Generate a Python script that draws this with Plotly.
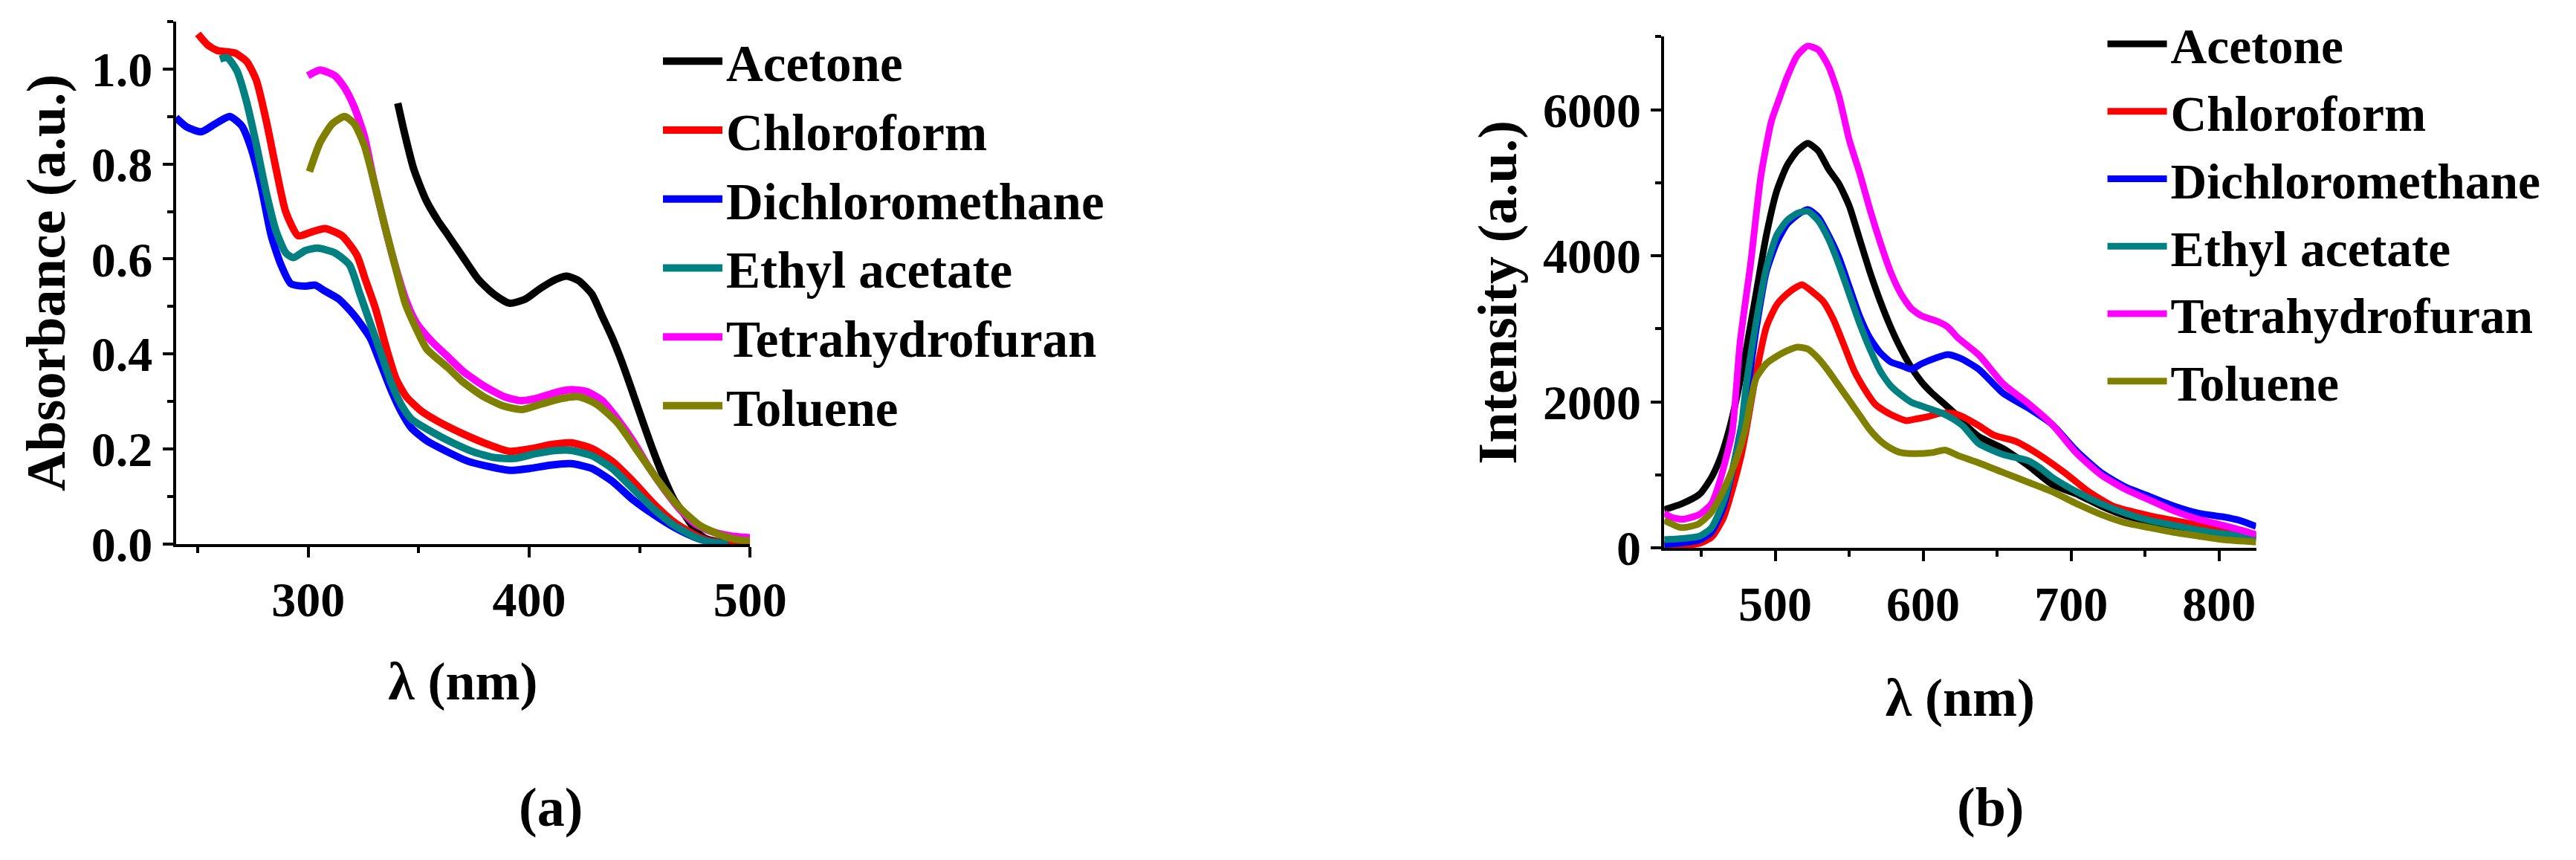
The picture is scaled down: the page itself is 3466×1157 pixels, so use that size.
import plotly.graph_objects as go

names = ["Acetone", "Chloroform", "Dichloromethane", "Ethyl acetate", "Tetrahydrofuran", "Toluene"]
colors = ["#000000", "#ff0000", "#0000ff", "#008080", "#ff00ff", "#808000"]

# (a) absorbance
acetone_a_x = [340.5, 343.3, 347.7, 353.3, 358.8, 363, 370, 377, 384, 391, 398, 405, 412, 417, 422.5, 428.4, 433, 437.6, 442.3, 447, 451.6, 456.3, 461, 465.6, 470.3, 475, 479.6, 486.6, 493, 500]
acetone_a_y = [0.928, 0.870, 0.790, 0.724, 0.680, 0.652, 0.604, 0.557, 0.526, 0.507, 0.515, 0.538, 0.557, 0.564, 0.554, 0.526, 0.48, 0.434, 0.379, 0.317, 0.255, 0.194, 0.139, 0.093, 0.062, 0.031, 0.012, 0.004, 0.002, 0.001]

chloro_a_x = [250, 254.4, 258.8, 266.6, 272.1, 276.5, 281, 285.4, 289.8, 295.4, 300.9, 307.5, 315.3, 322, 325.8, 330.4, 335, 339.7, 344.4, 351.4, 358.4, 370, 381.7, 391, 400.3, 409.7, 419, 428.3, 437.6, 447, 456.3, 465.6, 475, 482, 490, 500]
chloro_a_y = [1.074, 1.051, 1.039, 1.034, 1.016, 0.976, 0.890, 0.790, 0.699, 0.649, 0.656, 0.664, 0.649, 0.608, 0.557, 0.496, 0.418, 0.348, 0.310, 0.279, 0.259, 0.232, 0.209, 0.195, 0.2, 0.209, 0.213, 0.201, 0.174, 0.132, 0.085, 0.046, 0.019, 0.006, 0.003, 0.002]

dcm_a_x = [240, 245, 251.6, 258, 264.4, 269.9, 274.3, 278.8, 283.2, 287.6, 292.1, 298.7, 303.1, 307, 314, 321, 328, 332.8, 337.4, 342, 346.7, 353.7, 363, 372.4, 381.7, 391, 400.3, 409.7, 419, 428.3, 437.6, 447, 456.3, 465.6, 475, 482, 490]
dcm_a_y = [0.898, 0.878, 0.868, 0.885, 0.900, 0.880, 0.830, 0.749, 0.649, 0.588, 0.548, 0.543, 0.545, 0.534, 0.515, 0.48, 0.434, 0.379, 0.325, 0.279, 0.244, 0.217, 0.194, 0.174, 0.163, 0.155, 0.159, 0.166, 0.169, 0.159, 0.132, 0.093, 0.062, 0.035, 0.014, 0.004, 0.001]

ea_a_x = [260, 263.3, 267.7, 272.1, 276.5, 281, 285.4, 289.8, 293.2, 298.7, 304.2, 312, 318.6, 323.4, 328, 332.8, 337.4, 342, 346.7, 356, 365.4, 374.7, 384, 393.3, 402.7, 412, 419, 428.3, 437.6, 447, 456.3, 465.6, 475, 482, 490]
ea_a_y = [1.021, 1.024, 0.996, 0.930, 0.840, 0.739, 0.659, 0.613, 0.603, 0.618, 0.623, 0.613, 0.588, 0.526, 0.465, 0.403, 0.341, 0.294, 0.263, 0.236, 0.213, 0.194, 0.182, 0.180, 0.190, 0.197, 0.197, 0.186, 0.159, 0.116, 0.074, 0.039, 0.015, 0.004, 0.001]

thf_a_x = [299.8, 305.3, 312, 316.4, 320.8, 325.3, 329.7, 334.1, 338.6, 344.4, 349, 356, 363, 370, 379.4, 388.7, 395.7, 402.7, 412, 419, 426, 433, 440, 447, 454, 461, 468, 475, 482, 491, 500]
thf_a_y = [0.986, 0.998, 0.986, 0.961, 0.920, 0.860, 0.764, 0.679, 0.598, 0.511, 0.465, 0.426, 0.395, 0.364, 0.333, 0.31, 0.302, 0.306, 0.319, 0.325, 0.321, 0.302, 0.263, 0.217, 0.163, 0.116, 0.074, 0.043, 0.027, 0.017, 0.013]

tol_a_x = [300.5, 305.3, 310.9, 316.4, 320.8, 325.3, 329.7, 334.1, 338.6, 344, 349, 353.7, 363, 370, 379.4, 388.7, 396.8, 405, 414.3, 422.5, 430.6, 440, 449.3, 458.6, 468, 477.3, 486.6, 493, 500]
tol_a_y = [0.784, 0.845, 0.885, 0.900, 0.885, 0.840, 0.764, 0.679, 0.598, 0.505, 0.452, 0.410, 0.372, 0.341, 0.310, 0.290, 0.283, 0.294, 0.306, 0.31, 0.294, 0.255, 0.194, 0.132, 0.077, 0.039, 0.019, 0.01, 0.006]

# (b) emission
acetone_b_x = [425, 437, 449, 457, 463.5, 468.5, 473, 480, 487, 494, 501, 508, 515, 522, 529, 536, 543, 550, 557, 564, 571, 578, 585, 592, 599, 606, 613, 620, 627, 637.6, 654, 670.6, 687.2, 703.7, 720.2, 736.7, 753, 770, 786, 803, 825]
acetone_b_y = [526, 608, 739, 969, 1265, 1593, 1970, 2674, 3479, 4283, 4886, 5238, 5439, 5540, 5439, 5188, 4987, 4685, 4233, 3780, 3378, 3026, 2725, 2473, 2272, 2121, 1996, 1870, 1719, 1527, 1363, 1133, 870, 739, 575, 443, 360, 290, 230, 180, 120]

chloro_b_x = [425, 437, 449, 457, 465, 472, 477, 480, 487, 494, 501, 508, 515, 518.4, 525.4, 532.4, 539.4, 546.5, 553.5, 560.5, 567.5, 574.5, 581.6, 588.6, 595.6, 602.6, 611.4, 620, 627, 637.6, 648, 662.4, 678.9, 695.4, 711.9, 728.4, 753.1, 777.9, 802.6, 825]
chloro_b_y = [24, 33, 66, 148, 411, 871, 1265, 1568, 2373, 3026, 3328, 3479, 3579, 3604, 3504, 3378, 3127, 2775, 2423, 2172, 1970, 1870, 1795, 1744, 1769, 1795, 1845, 1845, 1795, 1675, 1543, 1462, 1271, 1035, 772, 574, 443, 345, 250, 170]

dcm_b_x = [425, 437, 449, 457, 465, 472, 477, 480, 487, 494, 501, 508, 515, 522, 529, 536, 543, 550, 557, 564, 571, 578, 585, 592, 599, 608, 616.6, 625, 637.6, 654.1, 670.6, 687.2, 703.7, 720.2, 736.7, 753.1, 769.6, 786.1, 802.6, 813.9, 825]
dcm_b_y = [50, 70, 110, 220, 560, 1150, 1650, 1970, 2976, 3780, 4182, 4434, 4559, 4635, 4534, 4283, 3981, 3579, 3177, 2875, 2674, 2549, 2499, 2448, 2524, 2599, 2649, 2599, 2447, 2118, 1921, 1691, 1330, 1035, 838, 707, 576, 477, 428, 378, 296]

ea_b_x = [425, 437, 449, 457, 465.2, 471.8, 476.7, 480, 487, 494, 501, 508, 515, 522, 529, 536, 543, 550, 557, 564, 571, 578, 585, 592, 599, 606, 613, 620, 627, 637.6, 654, 670.6, 678.9, 687.2, 703.7, 720.2, 736.7, 753.1, 769.6, 786.1, 802.6, 825]
ea_b_y = [115, 131, 164, 280, 641, 1133, 1593, 2172, 3077, 3831, 4283, 4484, 4584, 4610, 4484, 4233, 3881, 3479, 3077, 2725, 2423, 2222, 2096, 1996, 1945, 1895, 1845, 1769, 1669, 1429, 1281, 1199, 1100, 969, 772, 608, 477, 378, 312, 247, 197, 140]

thf_b_x = [425, 430, 437.3, 448.8, 457, 461.9, 466.8, 471, 476.3, 483.3, 490.3, 497.4, 502.6, 508, 515, 522, 529, 536, 543, 550, 557, 564, 571, 578, 585, 592, 599, 609.6, 616.6, 623.6, 637.6, 654, 670.6, 687.2, 703.7, 720.2, 736.7, 753.1, 769.6, 786.1, 802.6, 825]
thf_b_y = [480, 420, 394, 460, 608, 871, 1232, 1593, 2825, 3881, 5087, 5841, 6143, 6444, 6746, 6872, 6822, 6595, 6193, 5590, 5138, 4635, 4183, 3780, 3479, 3278, 3177, 3102, 3026, 2875, 2644, 2250, 1987, 1691, 1297, 1002, 805, 657, 509, 394, 312, 187]

tol_b_x = [425, 436.5, 448, 456.3, 464.5, 472.8, 479.4, 487, 494, 501, 508, 515, 522, 529, 536, 543, 550, 557, 564, 571, 578, 585, 595.6, 606, 614.8, 623.6, 637.6, 654, 670.6, 687.2, 703.7, 720.2, 736.7, 753.1, 769.6, 786.1, 802.6, 825]
tol_b_y = [378, 280, 329, 477, 772, 1166, 1593, 2322, 2524, 2624, 2700, 2750, 2725, 2599, 2423, 2222, 2021, 1820, 1619, 1468, 1367, 1307, 1292, 1307, 1342, 1267, 1166, 1035, 904, 772, 608, 460, 345, 279, 214, 164, 115, 83]

abs_series = [(acetone_a_x, acetone_a_y), (chloro_a_x, chloro_a_y), (dcm_a_x, dcm_a_y),
              (ea_a_x, ea_a_y), (thf_a_x, thf_a_y), (tol_a_x, tol_a_y)]
em_series = [(acetone_b_x, acetone_b_y), (chloro_b_x, chloro_b_y), (dcm_b_x, dcm_b_y),
             (ea_b_x, ea_b_y), (thf_b_x, thf_b_y), (tol_b_x, tol_b_y)]

FONT = "Liberation Serif"
W, H = 3466, 1157

fig = go.Figure()
for i, (xs, ys) in enumerate(abs_series):
    fig.add_trace(go.Scatter(x=xs, y=ys, name=names[i], mode="lines",
                             line=dict(color=colors[i], width=10, shape="spline", smoothing=0.6),
                             xaxis="x", yaxis="y", legend="legend"))
for i, (xs, ys) in enumerate(em_series):
    fig.add_trace(go.Scatter(x=xs, y=ys, name=names[i], mode="lines",
                             line=dict(color=colors[i], width=9, shape="spline", smoothing=0.6),
                             xaxis="x2", yaxis="y2", legend="legend2"))

def ax(**kw):
    d = dict(showline=True, linecolor="black", linewidth=4, mirror=False,
             ticks="outside", ticklen=14, tickwidth=4, tickcolor="black",
             showgrid=False, zeroline=False,
             tickfont=dict(family=FONT, size=66, color="black", weight="bold"),
             minor=dict(ticks="outside", ticklen=8, tickwidth=4, tickcolor="black", showgrid=False))
    d.update(kw)
    return d

xtitle_font = dict(family=FONT, size=72, color="black", weight="bold")
ytitle_font = dict(family=FONT, size=74, color="black", weight="bold")

fig.update_layout(
    width=W, height=H, margin=dict(l=0, r=0, t=0, b=0), autosize=False,
    paper_bgcolor="white", plot_bgcolor="white",
    xaxis=ax(domain=[240 / W, 1024 / W], range=[240, 500], dtick=100, tick0=0,
             minor_dtick=50, anchor="y",
             title=dict(text="λ (nm)", font=xtitle_font, standoff=50)),
    yaxis=ax(domain=[1 - 756 / H, 1 - 30 / H], range=[0, 1.1], dtick=0.2, tick0=0,
             tickformat=".1f", minor_dtick=0.1, anchor="x",
             title=dict(text="Absorbance (a.u.)", font=ytitle_font, standoff=12)),
    xaxis2=ax(domain=[2272 / W, 3080 / W], range=[425, 825], dtick=100, tick0=0,
              minor_dtick=50, anchor="y2",
              title=dict(text="λ (nm)", font=xtitle_font, standoff=66)),
    yaxis2=ax(domain=[1 - 761.7 / H, 1 - 51 / H], range=[0, 7000], dtick=2000, tick0=0,
              minor_dtick=1000, anchor="x2",
              title=dict(text="Intensity (a.u.)", font=ytitle_font, standoff=12)),
    legend=dict(x=900 / W, y=1 - 32 / H, xanchor="left", yanchor="top",
                font=dict(family=FONT, size=69, color="black", weight="bold"),
                itemwidth=80, bgcolor="rgba(0,0,0,0)", tracegroupgap=0),
    legend2=dict(x=2872 / W, y=1 - 9 / H, xanchor="left", yanchor="top",
                 font=dict(family=FONT, size=67.5, color="black", weight="bold"),
                 itemwidth=80, bgcolor="rgba(0,0,0,0)", tracegroupgap=0),
    showlegend=True,
    annotations=[
        dict(text="(a)", x=752 / W, y=1 - 1122 / H, xref="paper", yref="paper",
             xanchor="center", yanchor="middle", showarrow=False,
             font=dict(family=FONT, size=74, color="black", weight="bold")),
        dict(text="(b)", x=2717 / W, y=1 - 1122 / H, xref="paper", yref="paper",
             xanchor="center", yanchor="middle", showarrow=False,
             font=dict(family=FONT, size=74, color="black", weight="bold")),
    ],
)

fig.write_html("out.html", config={"displayModeBar": False},
               post_script="document.body.style.margin='0';")
